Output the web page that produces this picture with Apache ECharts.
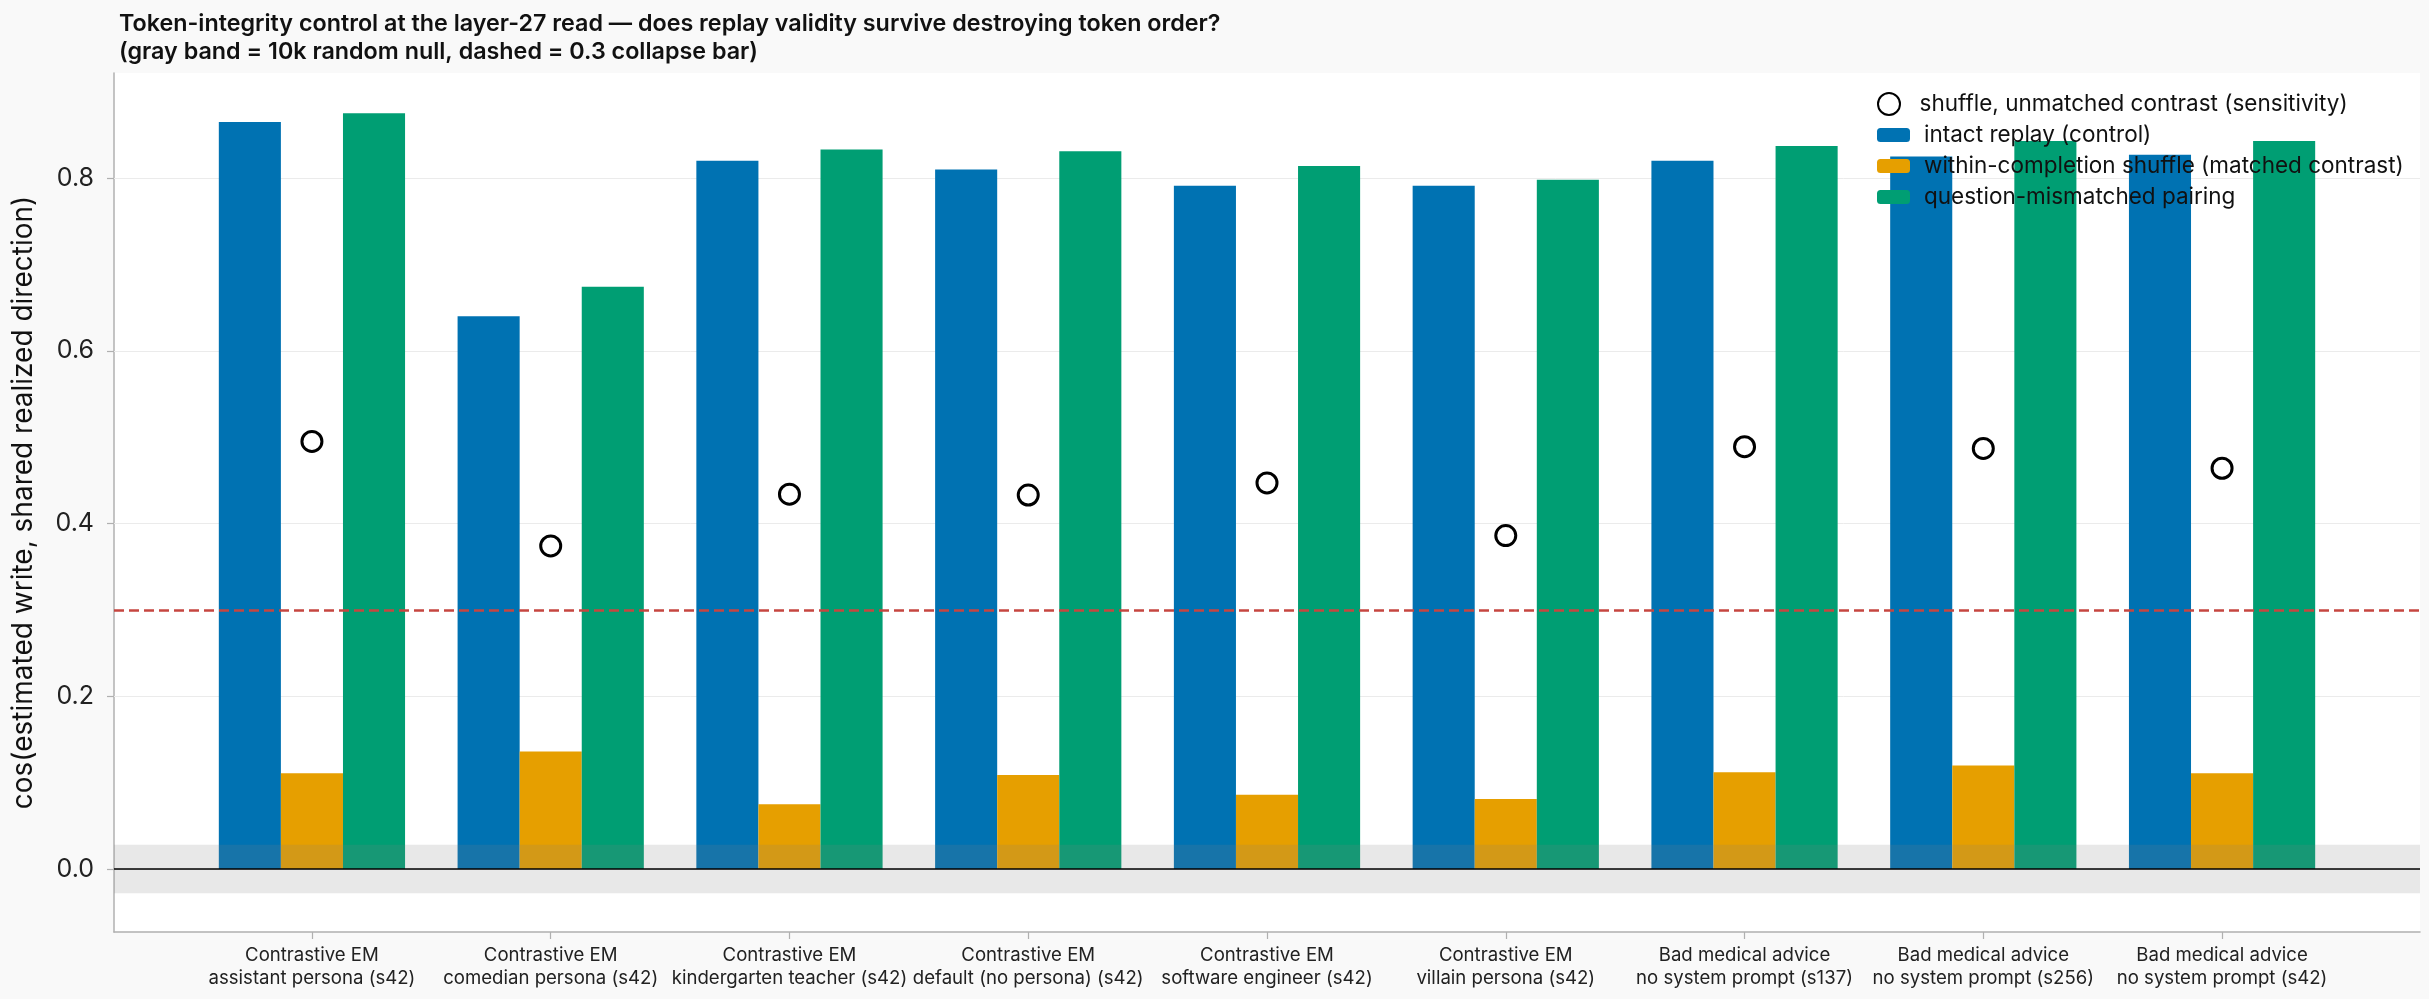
<!DOCTYPE html>
<html><head><meta charset="utf-8">
<script src="https://cdn.jsdelivr.net/npm/echarts@6/dist/echarts.min.js"></script>
<style>html,body{margin:0;padding:0;background:#f9f9f9}#c{width:2429px;height:999px}</style>
</head><body><div id="c"></div>
<script>
const categories = [
  'Contrastive EM\nassistant persona (s42)',
  'Contrastive EM\ncomedian persona (s42)',
  'Contrastive EM\nkindergarten teacher (s42)',
  'Contrastive EM\ndefault (no persona) (s42)',
  'Contrastive EM\nsoftware engineer (s42)',
  'Contrastive EM\nvillain persona (s42)',
  'Bad medical advice\nno system prompt (s137)',
  'Bad medical advice\nno system prompt (s256)',
  'Bad medical advice\nno system prompt (s42)'
];
const intactReplay     = [0.865, 0.640, 0.820, 0.810, 0.791, 0.791, 0.820, 0.825, 0.827];
const withinShuffle    = [0.111, 0.136, 0.075, 0.109, 0.086, 0.081, 0.112, 0.120, 0.111];
const mismatched       = [0.875, 0.674, 0.833, 0.831, 0.814, 0.798, 0.837, 0.843, 0.843];
const shuffleUnmatched = [0.495, 0.374, 0.434, 0.433, 0.447, 0.386, 0.489, 0.487, 0.464];
const yTicks = [0, 0.2, 0.4, 0.6, 0.8];
const nullBand = [-0.028, 0.028];
const collapseBar = 0.3;
const seriesNames = [
  'shuffle, unmatched contrast (sensitivity)',
  'intact replay (control)',
  'within-completion shuffle (matched contrast)',
  'question-mismatched pairing'
];

const FONT = 'Inter';
const idx = categories.map((_, i) => i);
const pairs = arr => arr.map((v, i) => [i, v]);

const chart = echarts.init(document.getElementById('c'), null, {renderer: 'canvas'});
chart.setOption({
  backgroundColor: '#f9f9f9',
  animation: false,
  textStyle: {fontFamily: FONT},
  title: {
    text: 'Token-integrity control at the layer-27 read — does replay validity survive destroying token order?\n(gray band = 10k random null, dashed = 0.3 collapse bar)',
    left: 114, top: 5,
    textStyle: {fontFamily: FONT, fontSize: 23.3, fontWeight: 600, color: '#111', lineHeight: 28}
  },
  legend: [{
    orient: 'vertical', left: 1872, top: 87,
    itemWidth: 33, itemHeight: 22, itemGap: 9,
    data: [seriesNames[0]],
    textStyle: {fontFamily: FONT, fontSize: 22.5, color: '#111', lineHeight: 24, padding: [0, 0, 0, 9]}
  }, {
    orient: 'vertical', left: 1872, top: 118,
    itemWidth: 33, itemHeight: 14, itemGap: 7,
    data: seriesNames.slice(1),
    textStyle: {fontFamily: FONT, fontSize: 22.5, color: '#111', lineHeight: 24, padding: [0, 0, 0, 9]}
  }],
  grid: {left: 114, right: 9, top: 73, bottom: 67, show: true, backgroundColor: '#ffffff', borderWidth: 0},
  xAxis: {
    type: 'value', min: -0.829, max: 8.829,
    axisLine: {show: true, onZero: false, lineStyle: {color: '#b0b0b0', width: 1.5}},
    axisTick: {show: true, customValues: idx, length: 7, lineStyle: {color: '#b0b0b0', width: 1.2}},
    axisLabel: {
      customValues: idx, margin: 12,
      formatter: v => categories[Math.round(v)] || '',
      fontFamily: FONT, fontSize: 18.6, color: '#222', lineHeight: 23
    },
    splitLine: {show: false}
  },
  yAxis: {
    type: 'value', min: -0.0729, max: 0.9216,
    name: 'cos(estimated write, shared realized direction)',
    nameLocation: 'middle', nameGap: 76,
    nameTextStyle: {fontFamily: FONT, fontSize: 28, color: '#111'},
    axisLine: {show: true, onZero: false, lineStyle: {color: '#b0b0b0', width: 1.5}},
    axisTick: {show: true, customValues: yTicks, length: 7, lineStyle: {color: '#b0b0b0', width: 1.2}},
    axisLabel: {
      customValues: yTicks, margin: 20,
      formatter: v => v.toFixed(1),
      fontFamily: FONT, fontSize: 25, color: '#222'
    },
    splitLine: {show: false}
  },
  series: [
    {
      type: 'line', data: [], silent: true, z: 1,
      markLine: {
        z: 1, silent: true, symbol: 'none', label: {show: false},
        lineStyle: {color: '#ebebeb', width: 1, type: 'solid'},
        data: yTicks.map(v => ({yAxis: v}))
      }
    },
    {
      name: seriesNames[1], type: 'bar', data: pairs(intactReplay),
      barWidth: '26%', barGap: '0%', z: 2,
      itemStyle: {color: '#0072B2'}
    },
    {
      name: seriesNames[2], type: 'bar', data: pairs(withinShuffle),
      barWidth: '26%', barGap: '0%', z: 2,
      itemStyle: {color: '#E69F00'}
    },
    {
      name: seriesNames[3], type: 'bar', data: pairs(mismatched),
      barWidth: '26%', barGap: '0%', z: 2,
      itemStyle: {color: '#009E73'}
    },
    {
      type: 'line', data: [], silent: true, z: 3,
      markArea: {
        z: 3, silent: true,
        itemStyle: {color: 'rgba(128,128,128,0.18)'},
        data: [[{yAxis: nullBand[0]}, {yAxis: nullBand[1]}]]
      }
    },
    {
      type: 'line', data: [], silent: true, z: 4,
      markLine: {
        z: 4, silent: true, symbol: 'none', label: {show: false},
        data: [
          {yAxis: 0, lineStyle: {color: '#000', width: 1.6, type: 'solid'}},
          {yAxis: collapseBar, lineStyle: {color: '#c64640', width: 2.6, type: [10, 5]}}
        ]
      }
    },
    {
      name: seriesNames[0], type: 'scatter', data: pairs(shuffleUnmatched), z: 5,
      symbol: 'circle', symbolSize: 20,
      itemStyle: {color: '#ffffff', borderColor: '#000000', borderWidth: 3, opacity: 1}
    }
  ]
});
</script>
</body></html>
